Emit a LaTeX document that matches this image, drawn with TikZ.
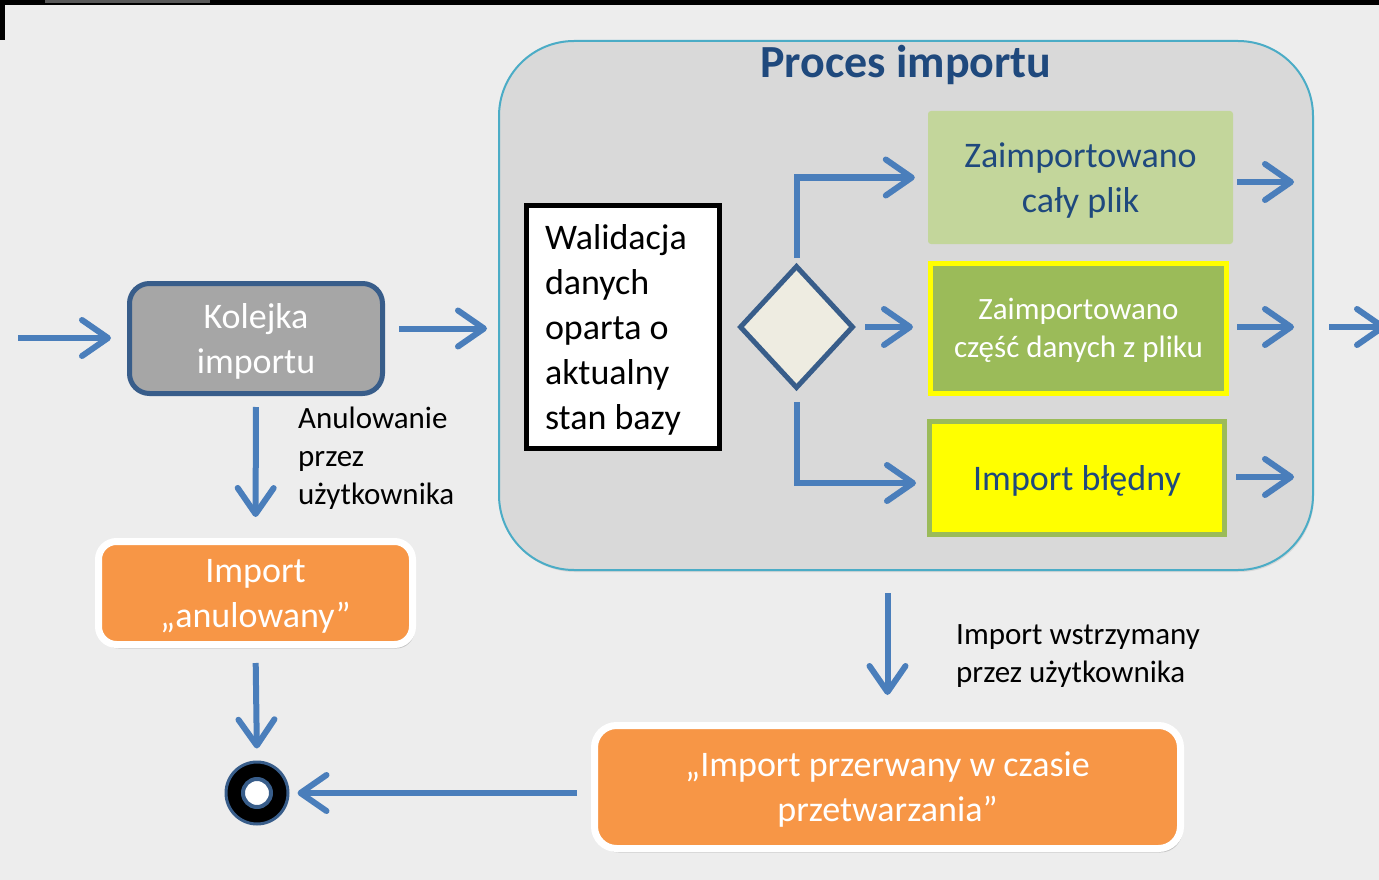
\documentclass[tikz,border=0pt]{standalone}
\usepackage{fontspec}
\setmainfont{Carlito}
\usetikzlibrary{arrows.meta,shapes.geometric,shadows}

\definecolor{tlo}{HTML}{EDEDED}
\definecolor{procesfill}{HTML}{D9D9D9}
\definecolor{procesline}{HTML}{4BACC6}
\definecolor{granat}{HTML}{1F497D}
\definecolor{ramka}{HTML}{385D8A}
\definecolor{szary}{HTML}{A6A6A6}
\definecolor{strzalkakolor}{HTML}{4A7EBB}
\definecolor{jasnyziel}{HTML}{C3D69B}
\definecolor{ziel}{HTML}{9BBB59}
\definecolor{zolty}{HTML}{FFFF00}
\definecolor{pomarancz}{HTML}{F79646}
\definecolor{rombfill}{HTML}{EEECE1}

\begin{document}
\begin{tikzpicture}[x=1pt,y=-1pt,
  strzalka/.style={draw=strzalkakolor, line width=6pt, -{Straight Barb[round,length=26pt,width=36pt]}},
  stan/.style={rectangle, inner sep=0pt, align=flush center, font=\fontsize{36}{45}\selectfont,
    execute at begin node={\rule{0pt}{0.83em}}},
  pomaranczowy/.style={stan, rounded corners=18pt, fill=pomarancz, draw=white, line width=7pt, text=white,
    drop shadow={shadow xshift=2pt, shadow yshift=-4pt, opacity=0.35}},
  opis/.style={anchor=north west, align=left, inner sep=0pt, font=\fontsize{31}{38}\selectfont}]

	\useasboundingbox (0,0) rectangle (1379,880);
	\clip (0,0) rectangle (1379,880);
	\fill[tlo] (0,0) rectangle (1379,880);
	\fill[black] (0,0) rectangle (1379,5);
	\fill[black!65] (45,0) rectangle (210,3);
	\fill[black] (0,0) rectangle (5,40);

	\node[rectangle, rounded corners=75pt, fill=procesfill, draw=procesline, line width=2pt,
	      minimum width=814pt, minimum height=529pt,
	      drop shadow={shadow xshift=1pt, shadow yshift=-2pt, opacity=0.2}] (proces) at (906,305.5) {};
	\node[text=granat, font=\fontsize{46}{50}\selectfont\bfseries] (tytul) at (906,65) {Proces importu};

	\node[stan, rounded corners=20pt, fill=szary, draw=ramka, line width=5pt, text=white, text width=240pt,
	      minimum width=253pt, minimum height=110pt] (kolejka) at (256,338.5) {Kolejka\\importu};
	\node[stan, fill=white, draw=black, line width=5pt, align=flush left, text width=156pt,
	      execute at begin node={\rule{0pt}{0.72em}},
	      minimum width=193pt, minimum height=243pt] (walidacja) at (623,327)
	      {Walidacja\\danych\\oparta o\\aktualny\\stan bazy};
	\node[diamond, inner sep=0pt, fill=rombfill, draw=ramka, line width=5pt,
	      minimum width=114pt, minimum height=123pt] (romb) at (796.5,327) {};

	\node[stan, rounded corners=3pt, fill=jasnyziel, text=granat, text width=290pt,
	      minimum width=305pt, minimum height=133pt] (plik) at (1080.5,177.5) {Zaimportowano\\cały plik};
	\node[stan, fill=ziel, draw=zolty, line width=5pt, text=white, font=\fontsize{31}{38}\selectfont, text width=290pt,
	      minimum width=296pt, minimum height=130pt] (czesc) at (1078.5,328.5) {Zaimportowano\\część danych z pliku};
	\node[stan, fill=zolty, draw=ziel, line width=5pt, text=granat, text width=280pt,
	      minimum width=295pt, minimum height=113pt] (blad) at (1077,478) {Import błędny};

	\node[pomaranczowy, text width=300pt, minimum width=314pt, minimum height=103pt] (anulowany) at (255.5,593)
	      {Import\\„anulowany”};
	\node[pomaranczowy, rounded corners=22pt, text width=560pt, minimum width=586pt, minimum height=123pt] (przerwany) at (887.5,787)
	      {„Import przerwany w czasie\\przetwarzania”};

	\node[circle, inner sep=0pt, fill=black, draw=ramka, line width=3pt, minimum size=62pt] (koniec) at (257,793) {};
	\node[circle, inner sep=0pt, fill=white, draw=ramka, line width=4pt, minimum size=28pt] (srodek) at (koniec) {};

	\node[opis] (anulowanie) at (298,407) {Anulowanie\\przez\\użytkownika};
	\node[opis] (wstrzymany) at (956,624) {Import wstrzymany\\przez użytkownika};

	\coordinate (wejscie) at (18,338);
	\coordinate (wyjscie1) at (1294,182);
	\coordinate (wyjscie2) at (1294,327);
	\coordinate (wyjscie3) at (1294,477);
	\coordinate (wyjscie) at (1386,327);

	\draw[strzalka, shorten >=16pt] (wejscie) -- (wejscie -| kolejka.west);
	\draw[strzalka, shorten <=14pt, shorten >=11pt] ([yshift=10pt]kolejka.east) -- ([yshift=10pt]kolejka.east -| proces.west);
	\draw[strzalka, shorten <=11pt, shorten >=21pt] (kolejka.south) -- (anulowany.north);
	\draw[strzalka, shorten <=15pt, shorten >=12pt] (anulowany.south) -- (koniec.north);
	\draw[strzalka, shorten <=14pt, shorten >=8pt] (przerwany.west |- koniec) -- (koniec.east);
	\draw[strzalka, shorten <=22pt, shorten >=27pt] (proces.south -| przerwany.north) -- (przerwany.north);

	\draw[strzalka, shorten <=5pt, shorten >=13pt] (romb.north) |- (plik.west);
	\draw[strzalka, shorten <=9pt, shorten >=15pt] (romb.east) -- (romb.east -| czesc.west);
	\draw[strzalka, shorten <=11pt, shorten >=11pt] (romb.south) |- ([yshift=-5pt]blad.west);

	\draw[strzalka, shorten <=4pt] (plik.east |- wyjscie1) -- (wyjscie1);
	\draw[strzalka, shorten <=8pt] (czesc.east |- wyjscie2) -- (wyjscie2);
	\draw[strzalka, shorten <=9pt] (blad.east |- wyjscie3) -- (wyjscie3);
	\draw[strzalka, shorten <=15pt] (proces.east |- wyjscie) -- (wyjscie);

\end{tikzpicture}
\end{document}
